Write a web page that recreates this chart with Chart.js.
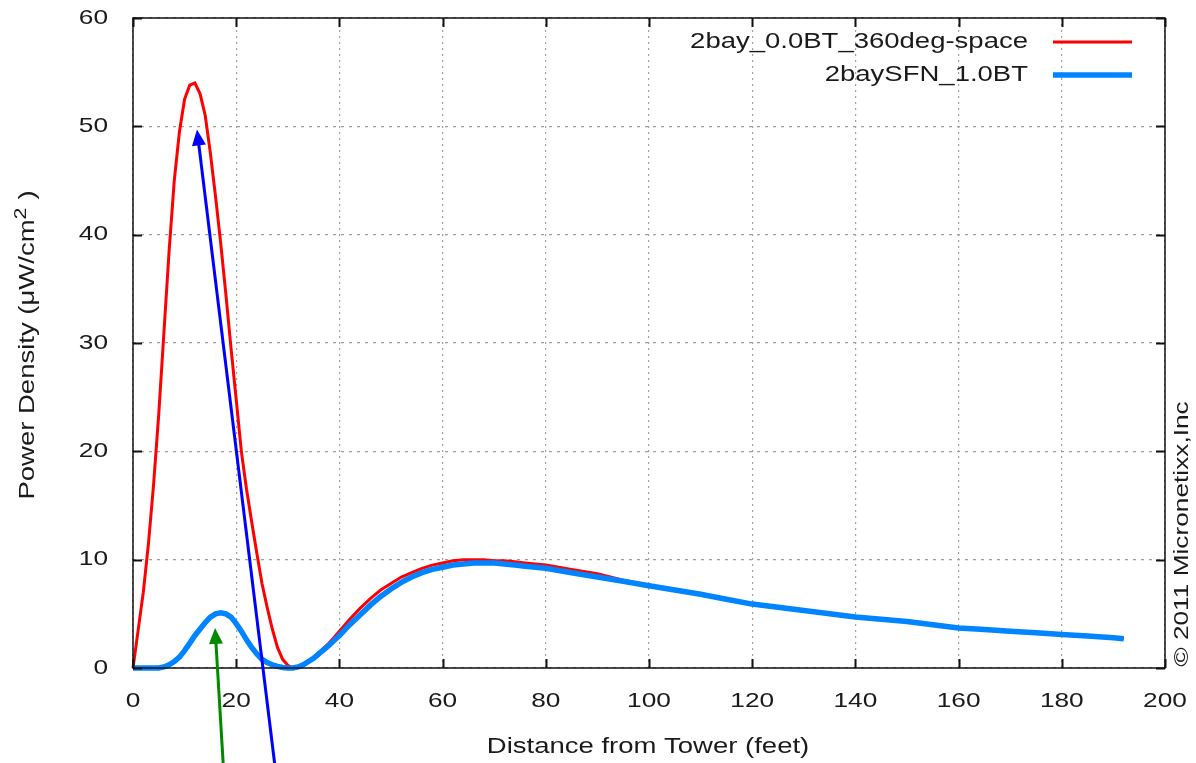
<!DOCTYPE html>
<html>
<head>
<meta charset="utf-8">
<script src="https://cdn.jsdelivr.net/npm/chart.js@4.4.1/dist/chart.umd.min.js"></script>
<style>
  html, body { margin: 0; padding: 0; background: #fff; }
  #wrap { width: 1196px; height: 763px; }
</style>
</head>
<body>
<div id="wrap"><canvas id="myChart" width="1196" height="763"></canvas></div>
<script>
// distance from the tower, feet
const distance = [
    0, 1, 2, 3, 4, 5, 6, 7, 8, 9, 10, 11, 12, 13, 14, 15, 16, 17, 18, 19, 20,
    21, 22, 23, 24, 25, 26, 27, 28, 29, 30, 31, 32, 33, 34, 35, 36, 37, 38, 39, 40,
    42, 44, 46, 48, 50, 52, 54, 56, 58, 60, 62, 64, 66, 68, 70, 72, 74, 76, 78, 80,
    85, 90, 95, 100, 105, 110, 115, 120, 125, 130, 135, 140, 145, 150, 155, 160,
    165, 170, 175, 180, 185, 190, 192
];

// power density, uW/cm^2
const bay2Space = [
    0, 3.5, 7, 11.5, 17, 23.5, 31, 38.5, 45, 49.5, 52.5, 53.8, 54, 53, 51, 47.5, 43.5, 39.2, 34.5, 29.5, 24.8,
    20, 16.5, 13.5, 10.6, 7.8, 5.6, 3.6, 1.9, 0.8, 0.25, 0, 0.1, 0.3, 0.6, 1.0, 1.4, 1.85, 2.3, 2.85, 3.4,
    4.5, 5.5, 6.4, 7.2, 7.8, 8.4, 8.8, 9.2, 9.5, 9.7, 9.9, 10.0, 10.0, 10.0, 9.9, 9.9, 9.8, 9.7, 9.6, 9.5,
    9.1, 8.7, 8.1, 7.6, 7.2, 6.8, 6.35, 5.9, 5.6, 5.3, 5.0, 4.7, 4.5, 4.3, 4.0, 3.7,
    3.55, 3.4, 3.25, 3.1, 2.95, 2.8, 2.7
];

const bay2SFN = [
    0, 0, 0, 0, 0, 0, 0.1, 0.3, 0.6, 1.0, 1.6, 2.3, 3.0, 3.6, 4.2, 4.7, 5.0, 5.1, 5.0, 4.7, 4.1,
    3.4, 2.6, 1.9, 1.3, 0.8, 0.5, 0.3, 0.15, 0.05, 0, 0, 0.1, 0.3, 0.6, 0.9, 1.3, 1.7, 2.1, 2.55, 3.0,
    4.0, 4.9, 5.8, 6.6, 7.3, 7.9, 8.4, 8.8, 9.1, 9.3, 9.5, 9.6, 9.7, 9.7, 9.7, 9.6, 9.5, 9.4, 9.3, 9.2,
    8.8, 8.4, 8.0, 7.6, 7.2, 6.8, 6.35, 5.9, 5.6, 5.3, 5.0, 4.7, 4.5, 4.3, 4.0, 3.7,
    3.55, 3.4, 3.25, 3.1, 2.95, 2.8, 2.7
];

const seriesNames = ['2bay_0.0BT_360deg-space', '2baySFN_1.0BT'];
const xTicks = [0, 20, 40, 60, 80, 100, 120, 140, 160, 180, 200];
const yTicks = [0, 10, 20, 30, 40, 50, 60];

// pointer arrows: [tailX, tailY, headX, headY] in chart units
const arrowBlue = [27.5, -9, 12.4, 49.7];
const arrowGreen = [17.5, -9, 15.9, 3.7];

const FONT = '"Liberation Sans", Arial, sans-serif';
const TEXT = '#1a1a1a';
const STRETCH = 1.25;

function pts(ys) {
    return distance.map((d, i) => ({ x: d, y: ys[i] }));
}

// text drawn a little wider than the font, like the old gd renderer
function wideText(ctx, str, x, y, align, size, angle) {
    ctx.save();
    ctx.translate(x, y);
    if (angle) ctx.rotate(angle);
    ctx.scale(STRETCH, 1);
    ctx.font = size + 'px ' + FONT;
    ctx.fillStyle = TEXT;
    ctx.textAlign = align;
    ctx.textBaseline = 'middle';
    ctx.fillText(str, 0, 0);
    ctx.restore();
}

function arrow(ctx, xs, ys, a, color) {
    const x1 = xs.getPixelForValue(a[0]), y1 = ys.getPixelForValue(a[1]);
    const x2 = xs.getPixelForValue(a[2]), y2 = ys.getPixelForValue(a[3]);
    const ang = Math.atan2(y2 - y1, x2 - x1);
    const len = 16, half = 7;
    ctx.save();
    ctx.strokeStyle = color;
    ctx.fillStyle = color;
    ctx.lineWidth = 3;
    ctx.beginPath();
    ctx.moveTo(x1, y1);
    ctx.lineTo(x2 - Math.cos(ang) * (len - 2), y2 - Math.sin(ang) * (len - 2));
    ctx.stroke();
    ctx.beginPath();
    ctx.moveTo(x2, y2);
    ctx.lineTo(x2 - Math.cos(ang) * len + Math.sin(ang) * half, y2 - Math.sin(ang) * len - Math.cos(ang) * half);
    ctx.lineTo(x2 - Math.cos(ang) * len - Math.sin(ang) * half, y2 - Math.sin(ang) * len + Math.cos(ang) * half);
    ctx.closePath();
    ctx.fill();
    ctx.restore();
}

const gnuplotFrame = {
    id: 'gnuplotFrame',
    afterDatasetsDraw(chart) {
        const { ctx, chartArea: a, scales: { x, y } } = chart;
        ctx.save();
        // border and inward tick marks on all four sides
        ctx.strokeStyle = '#111';
        ctx.lineWidth = 1.5;
        ctx.strokeRect(a.left, a.top, a.right - a.left, a.bottom - a.top);
        ctx.beginPath();
        xTicks.forEach(v => {
            const px = Math.round(x.getPixelForValue(v)) + 0.5;
            ctx.moveTo(px, a.bottom); ctx.lineTo(px, a.bottom - 9);
            ctx.moveTo(px, a.top); ctx.lineTo(px, a.top + 9);
        });
        yTicks.forEach(v => {
            const py = Math.round(y.getPixelForValue(v)) + 0.5;
            ctx.moveTo(a.left, py); ctx.lineTo(a.left + 9, py);
            ctx.moveTo(a.right, py); ctx.lineTo(a.right - 9, py);
        });
        ctx.lineWidth = 2;
        ctx.stroke();
        ctx.restore();

        // tick labels
        xTicks.forEach(v => wideText(ctx, String(v), x.getPixelForValue(v), a.bottom + 33, 'center', 21));
        yTicks.forEach(v => wideText(ctx, String(v), a.left - 25, y.getPixelForValue(v), 'right', 21));

        // axis titles
        wideText(ctx, 'Distance from Tower (feet)', 648, 747, 'center', 22);
        const yt = 'Power Density (\u03bcW/cm';
        ctx.save();
        ctx.translate(28, 345);
        ctx.rotate(-Math.PI / 2);
        ctx.scale(STRETCH, 1);
        ctx.font = '22px ' + FONT;
        ctx.fillStyle = TEXT;
        ctx.textBaseline = 'middle';
        const w1 = ctx.measureText(yt).width;
        const w2 = ctx.measureText('2').width * 0.8;
        const w3 = ctx.measureText(' )').width;
        const sx = -(w1 + w2 + w3) / 2;
        ctx.textAlign = 'left';
        ctx.fillText(yt, sx, 0);
        ctx.font = '17px ' + FONT;
        ctx.fillText('2', sx + w1, -7);
        ctx.font = '22px ' + FONT;
        ctx.fillText(' )', sx + w1 + w2, 0);
        ctx.restore();

        // credit line on the right
        wideText(ctx, '\u00a9 2011 Micronetixx,Inc', 1182, 534, 'center', 21, -Math.PI / 2);

        // key, gnuplot style: name then sample line
        [42, 75].forEach((ky, i) => {
            const ds = chart.data.datasets.find(d => d.label === seriesNames[i]);
            wideText(ctx, seriesNames[i], 1028, ky, 'right', 22);
            ctx.save();
            ctx.strokeStyle = ds.borderColor;
            ctx.lineWidth = ds.borderWidth;
            ctx.beginPath();
            ctx.moveTo(1053, ky);
            ctx.lineTo(1132, ky);
            ctx.stroke();
            ctx.restore();
        });
    },
    afterDraw(chart) {
        const { ctx, scales: { x, y } } = chart;
        arrow(ctx, x, y, arrowBlue, '#0000ff');
        arrow(ctx, x, y, arrowGreen, '#008a00');
    }
};

const ctx = document.getElementById('myChart').getContext('2d');
const myChart = new Chart(ctx, {
    type: 'line',
    data: {
        datasets: [
            {
                label: seriesNames[1],
                data: pts(bay2SFN),
                borderColor: 'rgb(0, 132, 255)',
                borderWidth: 5.5,
                pointRadius: 0,
                tension: 0,
                clip: false,
                order: 0
            },
            {
                label: seriesNames[0],
                data: pts(bay2Space),
                borderColor: 'rgb(255, 0, 0)',
                borderWidth: 3,
                pointRadius: 0,
                tension: 0,
                clip: false,
                order: 1
            }
        ]
    },
    options: {
        responsive: false,
        animation: false,
        events: [],
        layout: {
            padding: { top: 18, right: 31, left: 0, bottom: 0 }
        },
        scales: {
            x: {
                type: 'linear',
                min: 0,
                max: 200,
                ticks: { stepSize: 20, display: false },
                afterFit: scale => { scale.height = 95; },
                grid: {
                    color: '#a0a0a0',
                    lineWidth: 1.2,
                    drawTicks: false
                },
                border: { display: false, dash: [2, 4] }
            },
            y: {
                min: 0,
                max: 60,
                ticks: { stepSize: 10, display: false },
                afterFit: scale => { scale.width = 133; },
                grid: {
                    color: '#a0a0a0',
                    lineWidth: 1.2,
                    drawTicks: false
                },
                border: { display: false, dash: [3, 5] }
            }
        },
        plugins: {
            legend: { display: false },
            tooltip: { enabled: false }
        }
    },
    plugins: [gnuplotFrame]
});
</script>
</body>
</html>
